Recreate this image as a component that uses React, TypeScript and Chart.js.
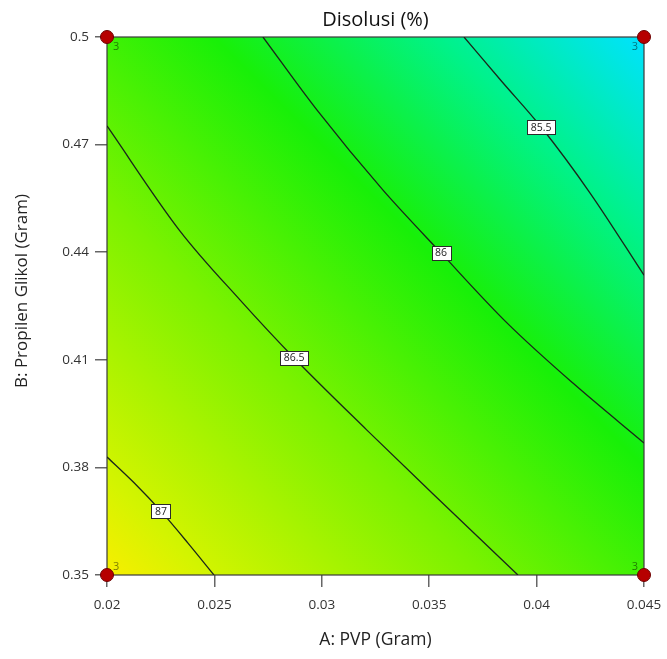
import React, { useEffect, useRef } from 'react';
import { Chart, registerables } from 'chart.js';

Chart.register(...registerables);

// ---- data ----
const xTicks = [0.02, 0.025, 0.03, 0.035, 0.04, 0.045];
const yTicks = [0.35, 0.38, 0.41, 0.44, 0.47, 0.5];

const contourLevels = ['87', '86.5', '86', '85.5'];

const c87X = [0.02, 0.02126, 0.02251, 0.02377, 0.02498];
const c87Y = [0.3829, 0.3757, 0.3678, 0.3589, 0.35];

const c865X = [0.02, 0.0234, 0.02619, 0.02871, 0.0321, 0.03518, 0.03913];
const c865Y = [0.4752, 0.4459, 0.4267, 0.4105, 0.3904, 0.3726, 0.35];

const c86X = [0.02726, 0.02978, 0.03285, 0.03555, 0.03862, 0.04169, 0.045];
const c86Y = [0.5, 0.4796, 0.4573, 0.4398, 0.4203, 0.4035, 0.3868];

const c855X = [0.03662, 0.03835, 0.04021, 0.04249, 0.045];
const c855Y = [0.5, 0.4878, 0.4749, 0.4565, 0.4336];

const labelX = [0.02251, 0.02871, 0.03555, 0.04021];
const labelY = [0.3678, 0.4105, 0.4398, 0.4749];

const designX = [0.02, 0.02, 0.045, 0.045];
const designY = [0.35, 0.5, 0.5, 0.35];
const designRuns = ['3', '3', '3', '3'];

const xTitle = 'A: PVP (Gram)';
const yTitle = 'B: Propilen Glikol (Gram)';
const chartTitle = 'Disolusi (%)';

// colour map along the response surface (high -> low)
const gradStops: [number, string][] = [
  [0, '#f8ee00'],
  [0.09, '#d4f400'],
  [0.35, '#7af200'],
  [0.6, '#18f008'],
  [0.81, '#00f28a'],
  [1, '#00e2ff'],
];

const FONT = "'Open Sans', 'Noto Sans', sans-serif";

const toPts = (xs: number[], ys: number[]) => xs.map((x, i) => ({ x, y: ys[i] }));

const backgroundPlugin = {
  id: 'surfaceBg',
  beforeDatasetsDraw(chart: any) {
    const { ctx, chartArea: a } = chart;
    ctx.save();
    const g = ctx.createLinearGradient(a.left, a.bottom, a.right, a.top);
    gradStops.forEach(([p, c]) => g.addColorStop(p, c));
    ctx.fillStyle = g;
    ctx.fillRect(a.left, a.top, a.right - a.left, a.bottom - a.top);
    ctx.strokeStyle = '#3a3a3a';
    ctx.lineWidth = 1.2;
    ctx.strokeRect(a.left, a.top, a.right - a.left, a.bottom - a.top);
    ctx.restore();
  },
};

const yTitlePlugin = {
  id: 'yTitle',
  afterDraw(chart: any) {
    const { ctx, chartArea: a } = chart;
    ctx.save();
    ctx.translate(22, (a.top + a.bottom) / 2 - 15);
    ctx.rotate(-Math.PI / 2);
    ctx.font = `17px ${FONT}`;
    ctx.fillStyle = '#222';
    ctx.textAlign = 'center';
    ctx.textBaseline = 'middle';
    ctx.fillText(yTitle, 0, 0);
    ctx.restore();
  },
};

const labelPlugin = {
  id: 'contourLabels',
  afterDatasetsDraw(chart: any) {
    const { ctx, scales, chartArea: a } = chart;
    ctx.save();
    ctx.font = `10.5px ${FONT}`;
    ctx.textAlign = 'center';
    ctx.textBaseline = 'middle';
    contourLevels.forEach((t, i) => {
      const px = scales.x.getPixelForValue(labelX[i]);
      const py = scales.y.getPixelForValue(labelY[i]);
      const w = Math.round(ctx.measureText(t).width + 7);
      const h = 14;
      const bx = Math.round(px - w / 2) + 0.5;
      const by = Math.round(py - h / 2) + 0.5;
      ctx.fillStyle = '#ffffff';
      ctx.fillRect(bx, by, w, h);
      ctx.strokeStyle = '#2a2a2a';
      ctx.lineWidth = 1;
      ctx.strokeRect(bx, by, w, h);
      ctx.fillStyle = '#222';
      ctx.fillText(t, px, py + 0.5);
    });
    // replicate counts beside design points
    ctx.font = `11px ${FONT}`;
    ctx.fillStyle = 'rgba(0,0,0,0.5)';
    designRuns.forEach((t, i) => {
      const px = scales.x.getPixelForValue(designX[i]);
      const py = scales.y.getPixelForValue(designY[i]);
      const isLeft = px < (a.left + a.right) / 2;
      const isTop = py < (a.top + a.bottom) / 2;
      ctx.textAlign = isLeft ? 'left' : 'right';
      ctx.textBaseline = isTop ? 'top' : 'bottom';
      ctx.fillText(t, px + (isLeft ? 6 : -6), py + (isTop ? 4 : -3));
    });
    ctx.restore();
  },
};

export default function App() {
  const ref = useRef<HTMLCanvasElement | null>(null);

  useEffect(() => {
    if (!ref.current) return;
    Chart.defaults.font.family = FONT;
    const lineStyle = {
      showLine: true,
      borderColor: '#1b261b',
      borderWidth: 1.3,
      pointRadius: 0,
      pointHoverRadius: 0,
      cubicInterpolationMode: 'monotone',
      fill: false,
    };
    const chart = new Chart(ref.current, {
      type: 'scatter',
      data: {
        datasets: [
          {
            label: 'Design points',
            data: toPts(designX, designY),
            pointRadius: 6.5,
            pointBackgroundColor: '#b60000',
            pointBorderColor: '#6e0000',
            pointBorderWidth: 1,
            showLine: false,
            clip: false,
          } as any,
          { label: contourLevels[0], data: toPts(c87X, c87Y), ...lineStyle },
          { label: contourLevels[1], data: toPts(c865X, c865Y), ...lineStyle },
          { label: contourLevels[2], data: toPts(c86X, c86Y), ...lineStyle },
          { label: contourLevels[3], data: toPts(c855X, c855Y), ...lineStyle },
        ],
      },
      options: {
        animation: false,
        responsive: false,
        maintainAspectRatio: false,
        events: [],
        layout: { padding: { left: 0, right: 23, top: 0, bottom: 0 } },
        plugins: {
          legend: { display: false },
          tooltip: { enabled: false },
          title: {
            display: true,
            fullSize: false,
            text: chartTitle,
            color: '#111',
            font: { family: FONT, size: 20, weight: 'normal', lineHeight: 1.2 },
            padding: { top: 8, bottom: 5 },
          },
        },
        scales: {
          x: {
            type: 'linear',
            min: 0.02,
            max: 0.045,
            afterBuildTicks: (s: any) => {
              s.ticks = xTicks.map((v) => ({ value: v }));
            },
            afterFit: (s: any) => {
              s.height = 84;
              s.paddingRight = 0;
              s.paddingLeft = 0;
            },
            grid: { display: true, drawOnChartArea: false, drawTicks: true, tickLength: 12, color: '#666', lineWidth: 1.5 },
            border: { display: false },
            ticks: {
              padding: 10,
              color: '#333',
              font: { family: FONT, size: 13.5 },
              maxRotation: 0,
              callback: (v: any) => String(v),
            },
            title: {
              display: true,
              text: xTitle,
              color: '#222',
              font: { family: FONT, size: 17.5, lineHeight: 1.2 },
              padding: { top: 0, bottom: 8 },
            },
          },
          y: {
            type: 'linear',
            min: 0.35,
            max: 0.5,
            afterBuildTicks: (s: any) => {
              s.ticks = yTicks.map((v) => ({ value: v }));
            },
            afterFit: (s: any) => {
              s.width = 107;
            },
            grid: { display: true, drawOnChartArea: false, drawTicks: true, tickLength: 12, color: '#666', lineWidth: 1.5 },
            border: { display: false },
            ticks: {
              padding: 6,
              color: '#333',
              font: { family: FONT, size: 13.5 },
              callback: (v: any) => String(v),
            },
            title: { display: false },
          },
        },
      } as any,
      plugins: [backgroundPlugin, labelPlugin, yTitlePlugin],
    });
    return () => chart.destroy();
  }, []);

  return (
    <div style={{ position: 'fixed', left: 0, top: 0, width: 667, height: 659, background: '#fff' }}>
      <canvas ref={ref} width={667} height={659} style={{ display: 'block', width: 667, height: 659 }} />
    </div>
  );
}
